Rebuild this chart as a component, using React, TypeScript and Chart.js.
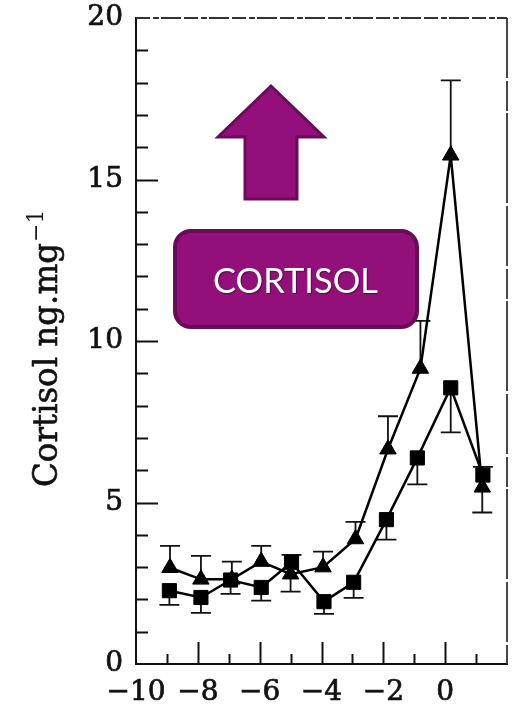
import { useEffect, useRef } from "react";
import { Chart, registerables } from "chart.js";

Chart.register(...registerables);

// Time axis positions of each sampling point
const triTime = [-8.9, -7.9, -6.9, -5.95, -5.0, -3.95, -2.9, -1.85, -0.8, 0.18, 1.2];
const sqTime = [-8.92, -7.9, -6.94, -5.95, -4.97, -3.92, -2.96, -1.9, -0.9, 0.18, 1.22];

// Mean cortisol (ng.mg-1)
const triMean = [2.98, 2.62, 2.62, 3.17, 2.78, 3.0, 3.87, 6.65, 9.15, 15.75, 5.47];
const sqMean = [2.27, 2.06, 2.6, 2.37, 3.15, 1.93, 2.53, 4.47, 6.38, 8.55, 5.85];

// Standard errors and the side (+1 up, -1 down) each bar is drawn on
const triErr = [0.68, 0.73, 0.55, 0.49, 0.54, 0.48, 0.53, 1.02, 1.47, 2.32, 0.78];
const triErrSide = [1, 1, 1, 1, -1, 1, 1, 1, 1, 1, -1];
const sqErr = [0.44, 0.48, 0.43, 0.41, 0.23, 0.38, 0.48, 0.62, 0.82, 1.38, 0.25];
const sqErrSide = [-1, -1, -1, -1, 1, -1, -1, -1, -1, -1, 1];

// Axis ticks
const xTickValues = [-10, -8, -6, -4, -2, 0];
const yTickValues = [0, 5, 10, 15, 20];
const xMinorTicks = [-9, -8, -7, -6, -5, -4, -3, -2, -1, 0, 1];
const yMinorTicks = [1, 2, 3, 4, 5, 6, 7, 8, 9, 10, 11, 12, 13, 14, 15, 16, 17, 18, 19];

const yTitle = "Cortisol ng.mg";
const yTitleSup = "\u22121";
const badgeText = "CORTISOL";

const PURPLE = "#930f7a";
const PURPLE_DARK = "#6a0a58";
const INK = "#111";

const errorSeries = [
  { t: triTime, m: triMean, e: triErr, s: triErrSide },
  { t: sqTime, m: sqMean, e: sqErr, s: sqErrSide },
];

const errorBarsPlugin = {
  id: "errorBars",
  beforeDatasetsDraw(chart: any) {
    const { ctx } = chart;
    const xs = chart.scales.x;
    const ys = chart.scales.y;
    ctx.save();
    ctx.strokeStyle = INK;
    ctx.lineWidth = 1.8;
    errorSeries.forEach((sr) => {
      sr.t.forEach((t, i) => {
        const px = xs.getPixelForValue(t);
        const y0 = ys.getPixelForValue(sr.m[i]);
        const y1 = ys.getPixelForValue(sr.m[i] + sr.s[i] * sr.e[i]);
        ctx.beginPath();
        ctx.moveTo(px, y0);
        ctx.lineTo(px, y1);
        ctx.moveTo(px - 10, y1);
        ctx.lineTo(px + 10, y1);
        ctx.stroke();
      });
    });
    ctx.restore();
  },
};

const framePlugin = {
  id: "frame",
  afterDraw(chart: any) {
    const { ctx, chartArea } = chart;
    const xs = chart.scales.x;
    const ys = chart.scales.y;
    const { left, right, top, bottom } = chartArea;
    ctx.save();
    ctx.strokeStyle = INK;
    ctx.lineWidth = 2;
    ctx.lineCap = "butt";
    // inward ticks on the left axis
    yMinorTicks.forEach((v) => {
      const py = Math.round(ys.getPixelForValue(v)) + 0.5;
      const len = v % 5 === 0 ? 22 : 12;
      ctx.beginPath();
      ctx.moveTo(left, py);
      ctx.lineTo(left + len, py);
      ctx.stroke();
    });
    // inward ticks on the bottom axis
    xMinorTicks.forEach((v) => {
      const px = Math.round(xs.getPixelForValue(v)) + 0.5;
      const len = v % 2 === 0 ? 22 : 10;
      ctx.beginPath();
      ctx.moveTo(px, bottom);
      ctx.lineTo(px, bottom - len);
      ctx.stroke();
    });
    // top and right frame
    ctx.strokeStyle = "#333";
    ctx.lineWidth = 1.8;
    ctx.setLineDash([14, 3, 6, 2, 20, 3]);
    ctx.beginPath();
    ctx.moveTo(left, top);
    ctx.lineTo(right, top);
    ctx.stroke();
    ctx.setLineDash([60, 3, 30, 2, 90, 3]);
    ctx.beginPath();
    ctx.moveTo(right, top);
    ctx.lineTo(right, bottom);
    ctx.stroke();
    ctx.setLineDash([]);

    // rotated y-axis title with superscript
    ctx.fillStyle = INK;
    ctx.strokeStyle = INK;
    ctx.lineWidth = 0.6;
    ctx.translate(57, 487);
    ctx.rotate(-Math.PI / 2);
    ctx.font = "34px 'DejaVu Serif'";
    ctx.textBaseline = "alphabetic";
    ctx.textAlign = "left";
    const w = ctx.measureText(yTitle).width;
    const sx = 244 / w;
    ctx.save();
    ctx.scale(sx, 1);
    ctx.fillText(yTitle, 0, 0);
    ctx.strokeText(yTitle, 0, 0);
    ctx.restore();
    ctx.font = "22px 'DejaVu Serif'";
    ctx.fillText(yTitleSup, 244 + 1, -14);
    ctx.restore();
  },
};

const badgePlugin = {
  id: "badge",
  afterDraw(chart: any) {
    const { ctx } = chart;
    ctx.save();
    ctx.fillStyle = PURPLE;
    ctx.strokeStyle = PURPLE_DARK;
    ctx.lineWidth = 3;
    ctx.lineJoin = "miter";
    // upward arrow
    ctx.beginPath();
    ctx.moveTo(271, 86);
    ctx.lineTo(324, 137);
    ctx.lineTo(297, 137);
    ctx.lineTo(297, 199);
    ctx.lineTo(245, 199);
    ctx.lineTo(245, 137);
    ctx.lineTo(218, 137);
    ctx.closePath();
    ctx.fill();
    ctx.stroke();

    // rounded label box
    ctx.lineWidth = 4;
    ctx.beginPath();
    ctx.roundRect(175, 231, 242, 96, 16);
    ctx.fill();
    ctx.stroke();

    // label text
    ctx.font = "35px Lato";
    ctx.textAlign = "center";
    ctx.textBaseline = "alphabetic";
    const tw = ctx.measureText(badgeText).width;
    const k = 165 / tw;
    ctx.translate(295.5, 293);
    ctx.scale(k, 1);
    ctx.shadowColor = "rgba(0,0,0,0.45)";
    ctx.shadowOffsetX = 1;
    ctx.shadowOffsetY = 1;
    ctx.shadowBlur = 1;
    ctx.fillStyle = "#ffffff";
    ctx.fillText(badgeText, 0, 0);
    ctx.restore();
  },
};

const fmtTick = (v: number) => (v < 0 ? "\u2212" + Math.abs(v) : String(v));

export default function App() {
  const canvasRef = useRef<HTMLCanvasElement | null>(null);

  useEffect(() => {
    if (!canvasRef.current) return;
    const tickFont = { family: "'DejaVu Serif'", size: 28 };
    const chart = new Chart(canvasRef.current, {
      type: "scatter",
      data: {
        datasets: [
          {
            label: "triangles",
            data: triTime.map((t, i) => ({ x: t, y: triMean[i] })),
            showLine: true,
            borderColor: "#000",
            borderWidth: 2.5,
            pointStyle: "triangle",
            pointRadius: 9.5,
            pointBackgroundColor: "#000",
            pointBorderColor: "#000",
            pointBorderWidth: 1,
          },
          {
            label: "squares",
            data: sqTime.map((t, i) => ({ x: t, y: sqMean[i] })),
            showLine: true,
            borderColor: "#000",
            borderWidth: 2.5,
            pointStyle: "rect",
            pointRadius: 10,
            pointBackgroundColor: "#000",
            pointBorderColor: "#000",
            pointBorderWidth: 1,
          },
        ],
      },
      options: {
        responsive: false,
        animation: false,
        events: [],
        layout: { padding: { top: 18, right: 7, left: 0, bottom: 0 } },
        plugins: {
          legend: { display: false },
          tooltip: { enabled: false },
        },
        scales: {
          x: {
            type: "linear",
            min: -10,
            max: 2,
            afterBuildTicks: (s: any) => {
              s.ticks = xTickValues.map((v) => ({ value: v }));
            },
            afterFit: (s: any) => {
              s.height = 44;
              s.paddingLeft = 0;
              s.paddingRight = 0;
              s.paddingTop = 0;
              s.paddingBottom = 0;
            },
            grid: { display: false, drawTicks: false },
            border: { display: true, color: INK, width: 2 },
            ticks: {
              padding: 12,
              color: INK,
              textStrokeColor: INK,
              textStrokeWidth: 0.7,
              maxRotation: 0,
              autoSkip: false,
              font: tickFont,
              callback: (v: any) => fmtTick(Number(v)),
            },
          },
          y: {
            type: "linear",
            min: 0,
            max: 20,
            afterBuildTicks: (s: any) => {
              s.ticks = yTickValues.map((v) => ({ value: v }));
            },
            afterFit: (s: any) => {
              s.width = 136;
              s.paddingLeft = 0;
              s.paddingRight = 0;
              s.paddingTop = 0;
              s.paddingBottom = 0;
            },
            grid: { display: false, drawTicks: false },
            border: { display: true, color: INK, width: 2 },
            ticks: {
              padding: 13,
              color: INK,
              textStrokeColor: INK,
              textStrokeWidth: 0.7,
              autoSkip: false,
              font: tickFont,
              callback: (v: any) => fmtTick(Number(v)),
            },
          },
        },
      },
      plugins: [errorBarsPlugin, framePlugin, badgePlugin],
    });
    return () => chart.destroy();
  }, []);

  return (
    <div
      style={{
        position: "fixed",
        left: 0,
        top: 0,
        width: 518,
        height: 708,
        background: "#ffffff",
      }}
    >
      <canvas ref={canvasRef} width={518} height={708} style={{ display: "block" }} />
    </div>
  );
}
